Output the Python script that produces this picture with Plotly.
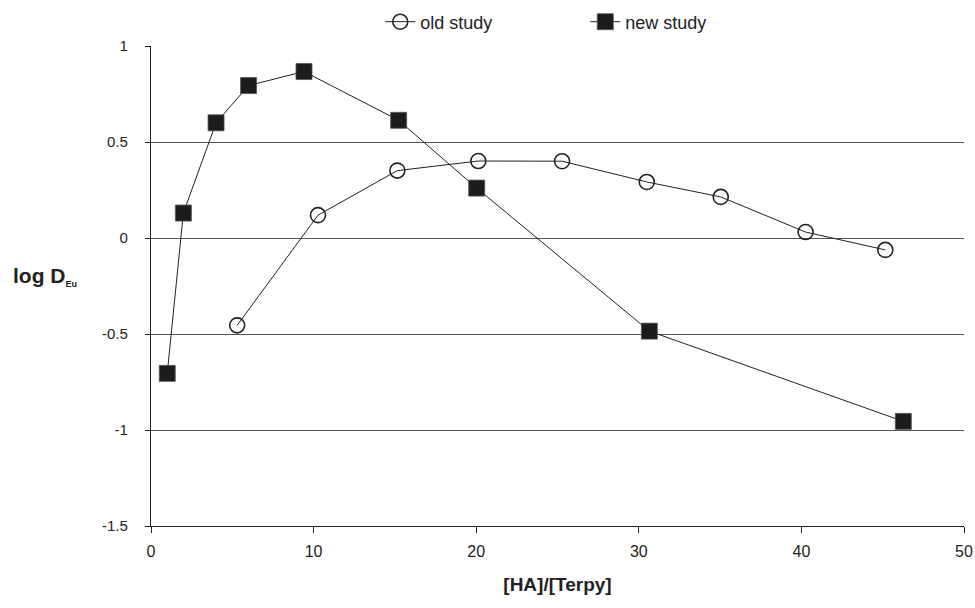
import plotly.graph_objects as go

old_x = [5.3, 10.27, 15.15, 20.13, 25.28, 30.49, 35.04, 40.26, 45.16]
old_y = [-0.455, 0.119, 0.351, 0.401, 0.400, 0.292, 0.214, 0.031, -0.062]
new_x = [1.0, 1.99, 4.0, 6.0, 9.41, 15.23, 20.03, 30.65, 46.27]
new_y = [-0.705, 0.13, 0.60, 0.794, 0.867, 0.613, 0.26, -0.485, -0.955]

x_ticks = [0, 10, 20, 30, 40, 50]
y_ticks = [-1.5, -1, -0.5, 0, 0.5, 1]
y_tick_text = ["-1.5", "-1", "-0.5", "0", "0.5", "1"]

FONT = "Liberation Sans, Arial, sans-serif"
NARROW = "Liberation Sans Narrow, Arial Narrow, Liberation Sans, Arial, sans-serif"
INK = "#222222"

fig = go.Figure()
fig.add_trace(go.Scatter(
    x=old_x, y=old_y, name="old study", mode="lines+markers",
    line=dict(color=INK, width=1),
    marker=dict(symbol="circle-open", size=15, color=INK, line=dict(width=1.6, color=INK)),
))
fig.add_trace(go.Scatter(
    x=new_x, y=new_y, name="new study", mode="lines+markers",
    line=dict(color=INK, width=1),
    marker=dict(symbol="square", size=16, color="#1c1c1c", line=dict(width=0.8, color="#555")),
))

fig.update_layout(
    width=975, height=608,
    margin=dict(l=151, r=11, t=46, b=82, autoexpand=False),
    paper_bgcolor="white", plot_bgcolor="white",
    font=dict(family=FONT, size=14, color=INK),
    showlegend=True,
    legend=dict(orientation="h", x=0.282, xanchor="left", y=1.05, yanchor="middle",
                font=dict(size=18, family=FONT, color=INK),
                entrywidth=160, entrywidthmode="pixels", bgcolor="rgba(0,0,0,0)"),
    xaxis=dict(range=[0, 50], tickvals=x_ticks, ticks="outside", ticklen=6, tickcolor=INK,
               showline=True, linecolor=INK, linewidth=1.3, showgrid=False, zeroline=False,
               tickfont=dict(size=16, family=NARROW), ticklabelstandoff=5,
               title=dict(text="<b>[HA]/[Terpy]</b>", font=dict(size=19, family=NARROW), standoff=18)),
    yaxis=dict(range=[-1.5, 1], tickvals=y_ticks, ticktext=y_tick_text, ticks="outside",
               ticklen=5, tickcolor=INK, showline=True, linecolor=INK, linewidth=1.3,
               showgrid=True, gridcolor="#555555", gridwidth=1.3, zeroline=False,
               tickfont=dict(size=15, family=NARROW), ticklabelstandoff=14),
    annotations=[dict(
        text="<b>log D<sub><span style='font-size:9px'>Eu</span></sub></b>",
        xref="paper", yref="paper", x=-0.172, y=0.52, xanchor="left", yanchor="middle",
        showarrow=False, font=dict(size=21, family=FONT, color=INK))],
)

fig.write_html("out.html")
